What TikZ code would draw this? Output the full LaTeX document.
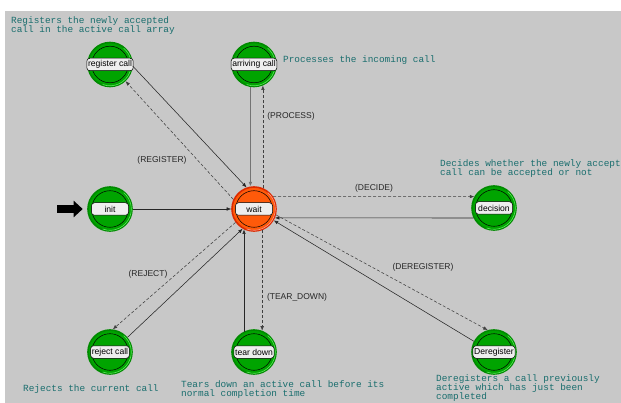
\documentclass[tikz,border=0pt]{standalone}
\usepackage{fontspec}
\setmainfont{Liberation Sans}
\newfontfamily\notefont{Liberation Mono}
\usetikzlibrary{arrows.meta}

\definecolor{panel}{HTML}{C8C8C8}
\definecolor{gfill}{HTML}{00A400}
\definecolor{gring}{HTML}{008A00}
\definecolor{glight}{HTML}{5CEB5C}
\definecolor{ofill}{HTML}{FF5A0A}
\definecolor{oring}{HTML}{DC2A00}
\definecolor{olight}{HTML}{FF9A8A}
\definecolor{notecol}{HTML}{1A6E6E}
\definecolor{tagfill}{HTML}{EEEEEE}

\tikzset{
  stateg/.style={circle, minimum size=44pt, inner sep=0pt, fill=gfill, draw=gring, line width=1.6pt},
  stateo/.style={circle, minimum size=44pt, inner sep=0pt, fill=ofill, draw=oring, line width=1.6pt},
  tag/.style={rounded corners=3pt, draw=black, line width=0.5pt, fill=tagfill,
    minimum width=37pt, minimum height=12.5pt, inner sep=1.2pt,
    font=\fontsize{8.6}{9}\selectfont, text=black},
  note/.style={inner sep=0pt, anchor=north west, align=left, text=notecol,
    font=\notefont\fontsize{9.4}{9}\selectfont},
  elabel/.style={inner sep=0pt, text=black!85, font=\fontsize{8.5}{9}\selectfont},
  tip/.style={-{Latex[length=4.5pt,width=3.6pt]}},
  trans/.style={tip, draw=black!85, line width=0.55pt},
  transd/.style={tip, draw=black!75, line width=0.55pt, dash pattern=on 3pt off 2pt},
}

\begin{document}
\begin{tikzpicture}[x=1pt,y=-1pt]
\useasboundingbox (0,0) rectangle (621,403);
\clip (0,0) rectangle (621,403);
\fill[white] (0,0) rectangle (621,403);
\fill[panel] (5,11) rectangle (621,403);

% states
\node[stateg] (reg)   at (110,64.5) {};
\node[stateg] (arr)   at (254,64.5) {};
\node[stateg] (init)  at (110,209)  {};
\node[stateo] (wait)  at (254,209)  {};
\node[stateg] (dec)   at (494,208)  {};
\node[stateg] (rej)   at (110,352)  {};
\node[stateg] (tear)  at (254,352)  {};
\node[stateg] (dereg) at (494,352)  {};

% rim highlight and inner ring of each state icon
\foreach \s in {reg,arr,init,dec,rej,tear,dereg}{
  \draw[glight, line width=0.6pt] (\s.center) ++(-110:21.3pt) arc[start angle=-110, end angle=50, radius=21.3pt];
  \draw[black, line width=0.5pt] (\s.center) circle[radius=18.3pt];
}
\draw[olight, line width=0.6pt] (wait.center) ++(-110:21.3pt) arc[start angle=-110, end angle=50, radius=21.3pt];
\draw[black, line width=0.5pt] (wait.center) circle[radius=18.3pt];

% state names
\node[tag] (reg-t)   at (reg)   {register call};
\node[tag] (arr-t)   at (arr)   {arriving call};
\node[tag] (init-t)  at (init)  {init};
\node[tag] (wait-t)  at (wait)  {wait};
\node[tag] (dec-t)   at (dec)   {decision};
\node[tag] (rej-t)   at (rej)   {reject call};
\node[tag] (tear-t)  at (tear)  {tear down};
\node[tag] (dereg-t) at (dereg) {Deregister};

% initial state marker
\coordinate (entry) at (57,209);
\draw[line width=8pt, -{Triangle[length=9pt,width=16pt]}, shorten >=4.5pt] (entry) -- (init.west);

% transitions
\draw[trans] (init.east) -- (wait.west);
\draw[transd] (wait.33) -- (dec.150);
\draw[trans] (dec.206) -- (wait.-23);

\draw[trans, draw=black!55, line width=1.3pt] (arr.261) -- (wait.99);
\draw[transd] (wait.67) -- (arr.293);

\draw[trans] (reg.-4) -- (wait.109);
\draw[transd] (wait.155) -- (reg.-47);

\draw[trans] (rej.40) -- (wait.240);
\draw[transd] (wait.216) -- (rej.83);

\draw[trans] (tear.116) -- (wait.244);
\draw[transd] (wait.291) -- (tear.69);

\draw[trans] (dereg.152) -- (wait.-30);
\draw[transd] (wait.-15) -- (dereg.106);

% transition conditions
\node[elabel] (l-proc)  at (291,116) {(PROCESS)};
\node[elabel] (l-reg)   at (162,160) {(REGISTER)};
\node[elabel] (l-dec)   at (374,188) {(DECIDE)};
\node[elabel] (l-rej)   at (148,274) {(REJECT)};
\node[elabel] (l-tear)  at (297,297) {(TEAR\_DOWN)};
\node[elabel] (l-dereg) at (423,267) {(DEREGISTER)};

% state descriptions
\node[note] (n-reg)   at (11,16)   {Registers the newly accepted\\call in the active call array};
\node[note] (n-arr)   at (283,55)  {Processes the incoming call};
\node[note] (n-dec)   at (440,159) {Decides whether the newly accepted\\call can be accepted or not};
\node[note] (n-rej)   at (23,384)  {Rejects the current call};
\node[note] (n-tear)  at (181,380) {Tears down an active call before its\\normal completion time};
\node[note] (n-dereg) at (436,374) {Deregisters a call previously\\active which has just been\\completed};
\end{tikzpicture}
\end{document}
